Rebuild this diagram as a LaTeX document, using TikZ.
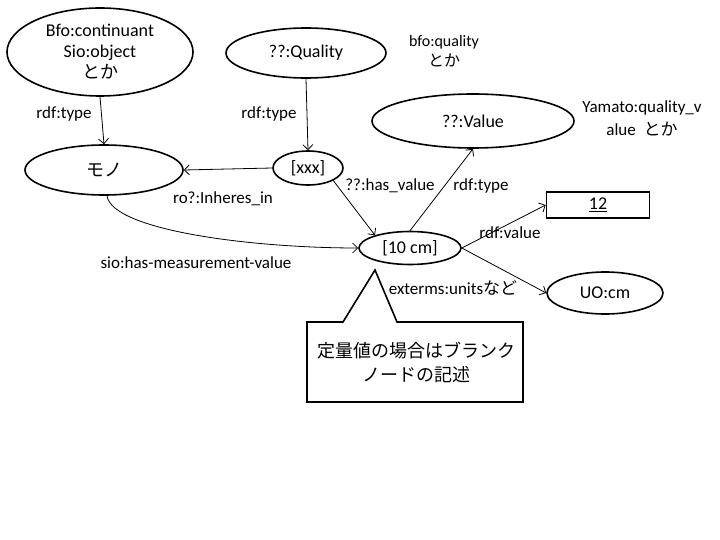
\documentclass[tikz,border=0pt]{standalone}
\usepackage{fontspec}
\setmainfont{Carlito}
\newfontfamily\jpfont{Noto Sans CJK JP}
\usetikzlibrary{arrows.meta}
\usetikzlibrary{shapes.geometric}

\begin{document}
\begin{tikzpicture}[x=1pt,y=-1pt,
    ell/.style={draw, ellipse, line width=1.6pt, inner sep=0pt, align=center,
        font=\fontsize{18}{21}\selectfont},
    lbl/.style={font=\fontsize{17}{21}\selectfont, align=center},
    link/.style={-{Straight Barb[length=5pt,width=10pt]}, line width=0.8pt}]
    \useasboundingbox (0,0) rectangle (720,540);
    \def\Thick{1.6pt}
    % nodes
    \node[ell, minimum width=186, minimum height=88] (cont) at (100,52)
        {Bfo:continuant\\Sio:object\\{\jpfont とか}};
    \node[ell, minimum width=160, minimum height=50] (quality) at (306,53) {??:Quality};
    \node[ell, minimum width=202, minimum height=54] (value) at (473,121) {??:Value};
    \node[ell, minimum width=158, minimum height=50] (mono) at (104,170) {\jpfont モノ};
    \node[ell, minimum width=70, minimum height=34] (xxx) at (308,168) {[xxx]};
    \node[ell, minimum width=102, minimum height=33] (cm) at (410,248) {[10 cm]};
    \node[ell, minimum width=116, minimum height=42] (uo) at (605,293) {UO:cm};
    \node[draw, line width=\Thick, minimum width=103, minimum height=26, inner sep=0pt,
        font=\fontsize{18}{21}\selectfont] (twelve) at (598,205) {\underline{12}};
    % notes
    \node[lbl, font=\fontsize{16}{20}\selectfont] (bfoq) at (444,51) {bfo:quality\\{\jpfont とか}};
    \node[lbl, font=\fontsize{17}{23}\selectfont] (yamato) at (642,118)
        {Yamato:quality\_v\\alue\ \ {\jpfont とか}};
    % links
    \draw[link] (cont.south) -- (mono.north);
    \draw[link] (quality.south) -- (xxx.north);
    \draw[link] (xxx.west) -- (mono.east);
    \draw[link] (xxx.south east) -- (cm.160);
    \draw[link] (cm.north) -- (value.south);
    \draw[link] (cm.east) -- (twelve.west);
    \draw[link] (cm.east) -- (uo.west);
    \draw[link] ([xshift=3pt]mono.south) .. controls (112,230) and (250,248) .. (cm.west);
    % link labels
    \node[lbl] (typea) at (64,114) {rdf:type};
    \node[lbl] (typeb) at (269,114) {rdf:type};
    \node[lbl] (inheres) at (223,199) {ro?:Inheres\_in};
    \node[lbl] (hasval) at (390,186) {??:has\_value};
    \node[lbl] (typec) at (481,186) {rdf:type};
    \node[lbl] (rdfval) at (510,233) {rdf:value};
    \node[lbl] (units) at (453,288) {exterms:units{\jpfont など}};
    \node[lbl] (measure) at (196,263) {sio:has-measurement-value};
    % callout
    \coordinate (tip) at (375,270);
    \draw[line width=\Thick, line join=miter] (307,322) -- (343,322) -- (tip) -- (397,322)
        -- (523,322) -- (523,402) -- (307,402) -- cycle;
    \node[font=\fontsize{18}{24}\selectfont\jpfont, align=center] (note) at (416,362)
        {定量値の場合はブランク\\ノードの記述};
\end{tikzpicture}
\end{document}
